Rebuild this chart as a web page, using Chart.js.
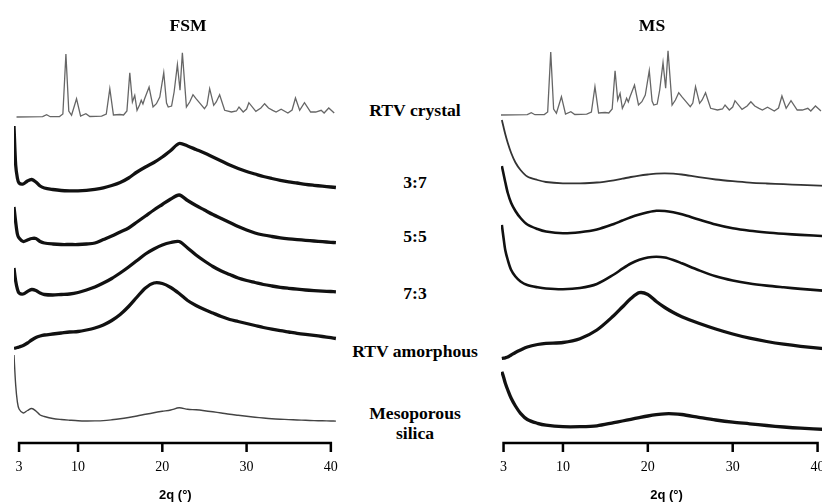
<!DOCTYPE html>
<html>
<head>
<meta charset="utf-8">
<script src="https://cdn.jsdelivr.net/npm/chart.js@4/dist/chart.umd.min.js"></script>
<style>
  html, body { margin: 0; padding: 0; background: #fff; overflow: hidden; }
  body { position: relative; width: 822px; height: 503px; }
  canvas { position: absolute; top: 0; }
  #left { left: 0; }
  #right { left: 480px; }
  .lbl {
    position: absolute; transform: translate(-50%, -50%) scaleX(1.1);
    font: bold 16px "Liberation Serif", "Times New Roman", serif;
    color: #000; text-align: center; line-height: 20px; white-space: nowrap;
  }
</style>
</head>
<body>
<canvas id="left" width="345" height="503"></canvas>
<canvas id="right" width="352" height="503"></canvas>
<div class="lbl" style="left:188px; top:26px">FSM</div>
<div class="lbl" style="left:652px; top:26px">MS</div>
<div class="lbl" style="left:415px; top:111px">RTV crystal</div>
<div class="lbl" style="left:415px; top:183px">3:7</div>
<div class="lbl" style="left:415px; top:237px">5:5</div>
<div class="lbl" style="left:415px; top:294px">7:3</div>
<div class="lbl" style="left:415px; top:352px">RTV amorphous</div>
<div class="lbl" style="left:415px; top:424px">Mesoporous<br>silica</div>
<script>
// x ticks (2theta, degrees)
var tickValues = [3, 10, 20, 30, 40];

// RTV crystal pattern, shared by both panels
var crystalTheta = [2.7, 5.8, 6.27, 6.7, 7.8, 8.2, 8.56, 8.9, 9.23, 9.82, 10.3, 10.93, 11.4, 12.8, 13.35, 13.77,
  14.2, 14.96, 15.4, 15.8, 16.14, 16.45, 16.73, 17.0, 17.3, 17.5, 17.7, 17.9, 18.43, 18.9, 19.3, 19.7, 20.17,
  20.5, 20.7, 21.1, 21.4, 21.79, 22.1, 22.38, 22.86, 23.25, 23.64, 24.0, 24.5, 25.0, 25.3, 25.62, 26.1, 26.4,
  26.8, 27.4, 28.2, 28.8, 29.1, 29.6, 30.0, 30.27, 31.1, 31.7, 32.14, 32.6, 33.1, 33.5, 34.1, 34.9, 35.4, 35.8,
  36.3, 36.87, 37.6, 38.2, 38.85, 39.2, 39.75, 40.4];
var crystalInt = [0, 0.3, 2.3, 0.3, 0.5, 3, 63, 6, 1.7, 18.3, 1, 3.3, 0.5, 0.8, 3, 28.3,
  2, 2.5, 2, 6, 44.3, 15, 21.7, 6.7, 12, 16.7, 13, 18.3, 30, 10, 13.3, 20, 44.3,
  14, 10, 11, 25, 52.3, 26.7, 64.3, 10, 15, 22.3, 18.3, 13.3, 8.3, 12, 28.3, 11.7, 15,
  22.3, 6.7, 5, 6, 10, 5, 8, 14.3, 5.7, 9, 13.3, 9, 6.7, 5, 7.7, 4, 7, 19,
  6.7, 14.3, 5, 5, 6.7, 4, 9, 4];

// FSM panel
var fsmTheta = [2.4, 2.6, 2.8, 3.0, 3.5, 4.0, 4.5, 5, 5.5, 6, 7, 8, 9, 10, 11, 12, 13, 14, 15, 16, 17, 18, 19, 20,
  21, 22, 23, 24, 25, 26, 27, 28, 29, 30, 31, 32, 33, 34, 35, 36, 37, 38, 39, 40, 40.6];
var fsm37 = [61, 22, 9, 4, 3, 6, 7.5, 5, 1, -1, -2.5, -3.5, -3.8, -3.8, -3.3, -2.3, -0.8, 1.5, 4.5, 9, 15, 20, 24.5, 30,
  36.5, 43.5, 41, 37.5, 34, 30, 26, 22, 18.5, 15.5, 13, 10.5, 8.5, 6.7, 5.2, 4, 2.7, 1.7, 0.8, 0, -0.5];
var fsm55 = [35, 20, 8, 4, 0.5, 2, 3.5, 3.5, 0.5, -1, -2, -2.5, -2.5, -2.5, -2, -1, 2.5, 6, 10, 14, 20, 26, 32, 37.5,
  43, 47, 41.5, 36.5, 32, 27.5, 23.5, 19.5, 15.5, 12, 9, 7, 5.5, 4.2, 3.2, 2.4, 1.7, 1, 0.3, -0.3, -0.7];
var fsm73 = [23.5, 10.5, 2.5, -1.5, -2.5, 0, 2, 1, -1.5, -3, -3.5, -3, -2.5, -1, 1.5, 4.5, 8.5, 13, 18.5, 24.5, 31, 37.5, 42.5, 46.5,
  49, 50, 43.5, 36.5, 30.5, 25, 20.5, 17, 13.5, 11, 9, 7, 5.5, 4.2, 3.2, 2.3, 1.5, 0.9, 0.4, 0, -0.3];
var fsmAmorph = [-10.5, -10, -9.5, -9, -7.5, -5, -2, 0.5, 2, 3, 4, 5, 6, 6.5, 8, 10, 13, 17.5, 23.5, 31.5, 41, 50, 55, 54.5,
  50.5, 44.5, 37.5, 32.5, 28.5, 25, 21.5, 18.5, 16.5, 14.5, 12.5, 10.5, 8.8, 7.3, 6, 4.7, 3.6, 2.6, 1.5, 0.3, -0.5];
var fsmSilica = [66, 36, 19, 12, 8, 10.5, 12.5, 10, 6, 4.5, 2.5, 1.5, 0.8, 0.2, 0, 0.1, 0.4, 1.2, 2.2, 3.5, 5, 6.7, 8.3, 9.7,
  11, 13.2, 11.7, 11.2, 10.3, 9.2, 8, 6.7, 5.7, 4.7, 3.8, 3, 2.3, 1.8, 1.4, 1, 0.7, 0.4, 0.2, 0, -0.1];
// vertical offsets: crystal, 3:7, 5:5, 7:3, amorphous, silica
var fsmOffsets = [326, 256, 201, 151.5, 105, 22];

// MS panel
var msTheta = [2.8, 3.0, 3.2, 3.5, 3.9, 4.4, 5, 5.8, 7, 8, 10, 12, 14, 16, 17, 18, 19, 20, 21, 22,
  23, 24, 26, 28, 30, 32, 34, 36, 38, 41];
var ms37 = [66, 59, 52, 43, 33, 23.5, 16, 9.5, 6, 4, 2.7, 2.7, 3.5, 5.7, 7.3, 9, 10.4, 11.5, 12.4, 12.7,
  12.3, 11.5, 8.8, 6.5, 4.8, 3.4, 2.5, 1.8, 1.1, 0.2];
var ms55 = [70, 62, 54, 43, 33, 25, 18, 11.5, 7, 4.5, 2.7, 3.8, 6.5, 12, 15.5, 18.8, 21.5, 23.7, 25.2, 25,
  23.7, 21.7, 16.5, 11.5, 7.7, 5.2, 3.5, 2.2, 1.1, -0.2];
var ms73 = [66, 53, 41, 31, 21, 14.5, 9.5, 6, 3.7, 2.5, 1.8, 3, 7, 16.5, 22.3, 27.5, 31.2, 33.5, 34.3, 33.5,
  31, 27.7, 20.8, 14.7, 10.5, 7.5, 5.4, 3.7, 2.1, 0.1];
var msAmorph = [-10.5, -10.2, -9.8, -9, -7, -4.5, -2, 1, 3.5, 4.7, 5.5, 9.3, 18, 32.5, 41, 49.5, 55.3, 53.5, 46.5, 40.5,
  35.5, 31.3, 24.7, 19, 14, 9.8, 6.5, 3.8, 1.7, -0.8];
var msSilica = [57.3, 52, 46, 39, 30.7, 23, 15.7, 9.5, 5.7, 3.8, 2.3, 2.3, 3.2, 6.4, 8, 9.7, 11.4, 13, 14.3, 15.2,
  15.2, 14.5, 11.7, 9, 6.8, 5.2, 3.5, 2, 0.8, -0.5];
var msOffsets = [328, 257, 207, 152, 95, 14];

function pts(theta, vals, offset) {
  return theta.map(function(t, i) { return { x: t, y: offset + vals[i] }; });
}

function trace(theta, vals, offset, color, width, tension) {
  return {
    data: pts(theta, vals, offset),
    borderColor: color,
    borderWidth: width,
    pointRadius: 0,
    tension: tension,
    fill: false
  };
}

// bottom axis: line from first to last tick, with tick marks hanging down
var axisLine = {
  id: 'axisLine',
  afterDraw: function(chart) {
    var sx = chart.scales.x;
    var ctx = chart.ctx;
    var y = chart.chartArea.bottom;
    ctx.save();
    ctx.strokeStyle = '#000';
    ctx.lineWidth = 2.5;
    ctx.beginPath();
    ctx.moveTo(sx.getPixelForValue(tickValues[0]) - 1.25, y);
    ctx.lineTo(sx.getPixelForValue(tickValues[tickValues.length - 1]) + 1.25, y);
    tickValues.forEach(function(v) {
      var px = sx.getPixelForValue(v);
      ctx.moveTo(px, y);
      ctx.lineTo(px, y + 9);
    });
    ctx.stroke();
    ctx.restore();
  }
};

function makeChart(id, datasets, xmin, xmax, padLeft, padRight) {
  return new Chart(document.getElementById(id).getContext('2d'), {
    type: 'line',
    data: { datasets: datasets },
    options: {
      responsive: false,
      animation: false,
      devicePixelRatio: 1,
      layout: { padding: { top: 43, left: padLeft, right: padRight, bottom: 0 } },
      plugins: { legend: { display: false }, tooltip: { enabled: false } },
      scales: {
        x: {
          type: 'linear', min: xmin, max: xmax,
          afterBuildTicks: function(axis) {
            axis.ticks = tickValues.map(function(v) { return { value: v }; });
          },
          afterFit: function(axis) { axis.height = 60; },
          border: { display: false },
          grid: { display: false, tickLength: 9 },
          ticks: {
            autoSkip: false, maxRotation: 0, padding: 7, color: '#000',
            font: { family: '"Liberation Serif", "Times New Roman", serif', size: 14 },
            callback: function(v) { return String(v); }
          },
          title: {
            display: true, text: '2q (°)', color: '#000', padding: 0,
            font: { family: '"Liberation Sans", Arial, sans-serif', size: 13, weight: 'bold' }
          }
        },
        y: { display: false, min: 0, max: 400 }
      }
    },
    plugins: [axisLine]
  });
}

makeChart('left', [
  trace(crystalTheta, crystalInt, fsmOffsets[0], '#666', 1.3, 0),
  trace(fsmTheta, fsm37, fsmOffsets[1], '#111', 3.3, 0.3),
  trace(fsmTheta, fsm55, fsmOffsets[2], '#111', 3.3, 0.3),
  trace(fsmTheta, fsm73, fsmOffsets[3], '#111', 3.3, 0.3),
  trace(fsmTheta, fsmAmorph, fsmOffsets[4], '#111', 3.3, 0.3),
  trace(fsmTheta, fsmSilica, fsmOffsets[5], '#444', 1.4, 0.3)
], 2.4, 40.7, 14, 8);

makeChart('right', [
  trace(crystalTheta, crystalInt, msOffsets[0], '#666', 1.3, 0),
  trace(msTheta, ms37, msOffsets[1], '#333', 1.8, 0.3),
  trace(msTheta, ms55, msOffsets[2], '#111', 2.6, 0.3),
  trace(msTheta, ms73, msOffsets[3], '#111', 2.6, 0.3),
  trace(msTheta, msAmorph, msOffsets[4], '#111', 3.3, 0.3),
  trace(msTheta, msSilica, msOffsets[5], '#111', 3.3, 0.3)
], 2.7, 41.7, 21, 0);
</script>
</body>
</html>
